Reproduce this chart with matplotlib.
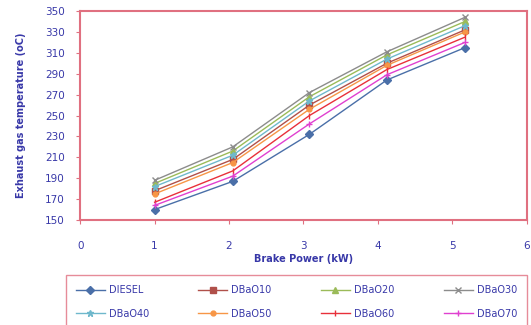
import matplotlib
matplotlib.use("Agg")
import matplotlib.pyplot as plt

bp = [1.0, 2.05, 3.08, 4.12, 5.17]
series_names = ["DIESEL", "DBaO10", "DBaO20", "DBaO30", "DBaO40", "DBaO50", "DBaO60", "DBaO70"]
diesel = [160, 187, 232, 284, 315]
dbao10 = [178, 208, 260, 300, 332]
dbao20 = [185, 216, 268, 308, 340]
dbao30 = [188, 220, 272, 311, 344]
dbao40 = [182, 212, 264, 304, 336]
dbao50 = [175, 205, 256, 298, 330]
dbao60 = [167, 197, 250, 294, 325]
dbao70 = [164, 192, 242, 289, 320]
values = [diesel, dbao10, dbao20, dbao30, dbao40, dbao50, dbao60, dbao70]
xticks = [0, 1, 2, 3, 4, 5, 6]
yticks = list(range(150, 351, 20))

colors = ["#4A6FA8", "#B0504A", "#9BBB59", "#8C8C8C", "#6FB8CC", "#F79646", "#E8303A", "#E040D0"]
markers = ["D", "s", "^", "x", "*", ".", "|", "+"]
msizes = [4, 5, 5, 5, 5, 7, 5, 5]
text_col = "#3838A8"
frame_col = "#E07080"

fig = plt.figure(figsize=(5.31, 3.25), dpi=100)
ax = fig.add_axes([0.151, 0.323, 0.841, 0.643])
handles = []
for name, v, c, m, ms in zip(series_names, values, colors, markers, msizes):
    h, = ax.plot(bp, v, color=c, marker=m, markersize=ms, linewidth=1.0, label=name,
                 markeredgecolor=c)
    handles.append(h)

ax.set_xlim(0, 6)
ax.set_ylim(150, 350)
ax.set_xticks(xticks)
ax.set_yticks(yticks)
for s in ax.spines.values():
    s.set_color(frame_col)
    s.set_linewidth(1.5)
ax.tick_params(axis="both", colors=frame_col, labelcolor=text_col, labelsize=7.5, length=3, direction="out")
ax.tick_params(axis="x", pad=12)
ax.tick_params(axis="y", pad=8)
ax.set_xlabel("Brake Power (kW)", color=text_col, fontsize=7, fontweight="bold", labelpad=2)
ax.set_ylabel("Exhaust gas temperature (oC)", color=text_col, fontsize=7, fontweight="bold", labelpad=14)

order = [0, 4, 1, 5, 2, 6, 3, 7]
leg = fig.legend([handles[i] for i in order], [series_names[i] for i in order],
                 loc="lower left", bbox_to_anchor=(0.124, -0.01, 0.868, 0.19), mode="expand",
                 ncol=4, fontsize=7, frameon=True, handlelength=3.0, borderaxespad=0.0,
                 labelspacing=1.4, borderpad=1.0, handletextpad=0.4)
leg.get_frame().set_edgecolor(frame_col)
leg.get_frame().set_linewidth(1.0)
leg.get_frame().set_boxstyle("square", pad=0)
for t in leg.get_texts():
    t.set_color(text_col)

fig.savefig("out.png", dpi=100)
